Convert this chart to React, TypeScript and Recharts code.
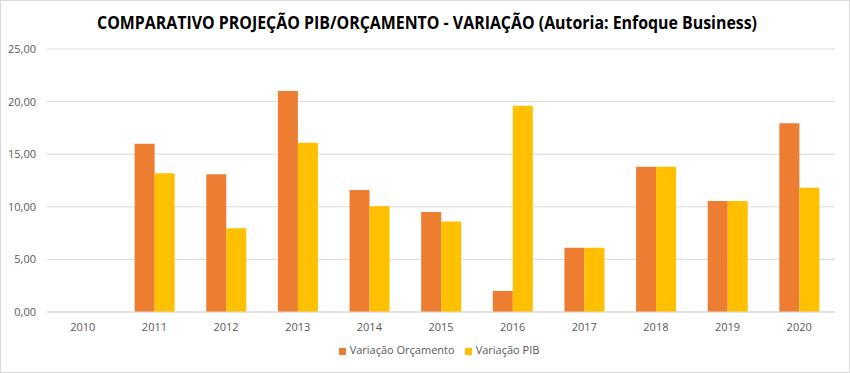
import React from 'react'
import { BarChart, Bar, XAxis, YAxis, CartesianGrid, Legend } from 'recharts'

const years = ['2010', '2011', '2012', '2013', '2014', '2015', '2016', '2017', '2018', '2019', '2020']
const variacaoOrcamento = [0, 16.0, 13.1, 21.0, 11.6, 9.5, 2.0, 6.1, 13.8, 10.55, 17.95]
const variacaoPib = [0, 13.2, 7.95, 16.1, 10.05, 8.6, 19.6, 6.1, 13.8, 10.55, 11.8]
const yTicks = [0, 5, 10, 15, 20, 25]

const data = years.map((year, i) => ({
  year,
  orcamento: variacaoOrcamento[i],
  pib: variacaoPib[i],
}))

const font = '"Open Sans", sans-serif'
const fmt = (v: number) => v.toFixed(2).replace('.', ',')

export default function App() {
  return (
    <div style={{ position: 'absolute', left: 0, top: 0, width: 848, height: 371, border: '1px solid #d9d9d9', background: '#fff', fontFamily: font }}>
      <svg width={848} height={40} style={{ position: 'absolute', left: 0, top: 0 }}>
        <text x={426} y={28} textAnchor="middle" fontSize={18} fontWeight="bold" fill="#000" fontFamily={font} textLength={660} lengthAdjust="spacingAndGlyphs">
          COMPARATIVO PROJEÇÃO PIB/ORÇAMENTO - VARIAÇÃO (Autoria: Enfoque Business)
        </text>
      </svg>
      <BarChart width={848} height={371} data={data} barSize={20} barGap={0} margin={{ top: 48, right: 14, left: 0, bottom: 6 }}>
        <CartesianGrid vertical={false} stroke="#d9d9d9" />
        <XAxis dataKey="year" axisLine={{ stroke: '#d9d9d9' }} tickLine={false} tickMargin={5} height={30} tick={{ fill: '#595959', fontSize: 11, fontFamily: font }} />
        <YAxis domain={[0, 25]} ticks={yTicks} tickFormatter={fmt} width={46} axisLine={false} tickLine={false} tickMargin={5} tick={{ fill: '#595959', fontSize: 11, fontFamily: font }} />
        <Legend
          verticalAlign="bottom"
          height={24}
          iconType="square"
          iconSize={7}
          wrapperStyle={{ fontSize: 11, fontFamily: font, paddingLeft: 26 }}
          formatter={(value: string) => <span style={{ color: '#595959' }}>{value}</span>}
        />
        <Bar dataKey="orcamento" name="Variação Orçamento" fill="#ED7D31" isAnimationActive={false} />
        <Bar dataKey="pib" name="Variação PIB" fill="#FFC000" isAnimationActive={false} />
      </BarChart>
    </div>
  )
}
